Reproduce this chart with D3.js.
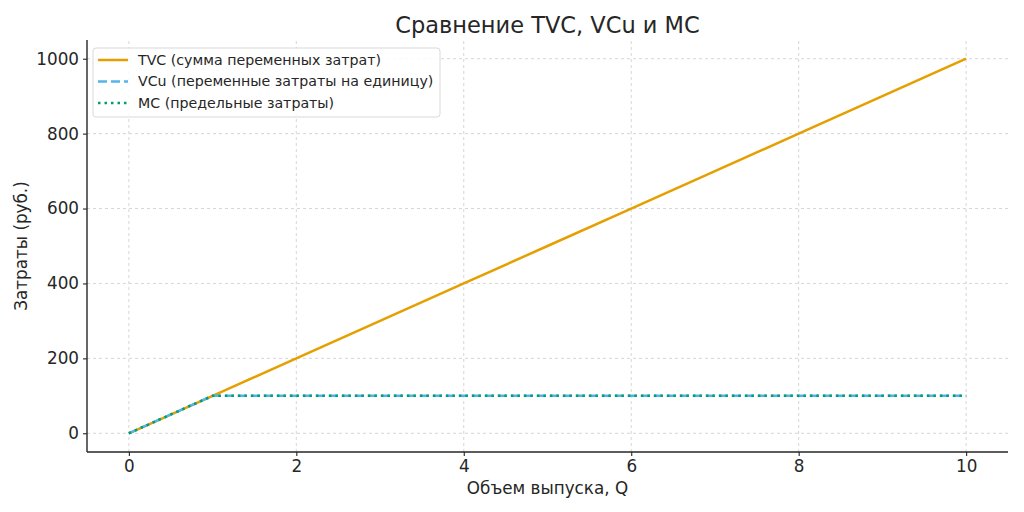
<!DOCTYPE html>
<html>
<head>
<meta charset="utf-8">
<script src="https://cdn.jsdelivr.net/npm/d3@7"></script>
<style>
  body { margin: 0; background: #fff; }
  text { font-family: "DejaVu Sans", sans-serif; fill: #262626; }
</style>
</head>
<body>
<svg id="chart" width="1024" height="512"></svg>
<script>
// chart data
var quantity = [0, 1, 2, 3, 4, 5, 6, 7, 8, 9, 10];
var tvc = [0, 100, 200, 300, 400, 500, 600, 700, 800, 900, 1000];
var vcu = [0, 100, 100, 100, 100, 100, 100, 100, 100, 100, 100];
var mc = [0, 100, 100, 100, 100, 100, 100, 100, 100, 100, 100];
var xTicks = [0, 2, 4, 6, 8, 10];
var yTicks = [0, 200, 400, 600, 800, 1000];
var seriesNames = [
    'TVC (сумма переменных затрат)',
    'VCu (переменные затраты на единицу)',
    'MC (предельные затраты)'
];

var margin = { left: 87, right: 16, top: 40, bottom: 60 };
var width = 1024, height = 512;

var svg = d3.select('#chart');

var x = d3.scaleLinear()
    .domain([-0.5, 10.5])
    .range([margin.left, width - margin.right]);

var y = d3.scaleLinear()
    .domain([-50, 1050])
    .range([height - margin.bottom, margin.top]);

// grid
svg.append('g')
    .selectAll('line')
    .data(xTicks)
    .enter().append('line')
    .attr('x1', (d) => x(d)).attr('x2', (d) => x(d))
    .attr('y1', y.range()[0]).attr('y2', y.range()[1])
    .attr('stroke', '#cccccc')
    .attr('stroke-width', 0.8)
    .attr('stroke-dasharray', '3,3');

svg.append('g')
    .selectAll('line')
    .data(yTicks)
    .enter().append('line')
    .attr('y1', (d) => y(d)).attr('y2', (d) => y(d))
    .attr('x1', x.range()[0]).attr('x2', x.range()[1])
    .attr('stroke', '#cccccc')
    .attr('stroke-width', 0.8)
    .attr('stroke-dasharray', '3,3');

// axes
var xAxis = svg.append('g')
    .attr('transform', `translate(0, ${ y.range()[0] })`)
    .call(d3.axisBottom(x).tickValues(xTicks).tickSize(4).tickPadding(4));

var yAxis = svg.append('g')
    .attr('transform', `translate(${ x.range()[0] }, 0)`)
    .call(d3.axisLeft(y).tickValues(yTicks).tickSize(4).tickPadding(4).tickFormat(d3.format('d')));

[xAxis, yAxis].forEach(function(ax) {
    ax.select('.domain').attr('stroke', '#262626').attr('stroke-width', 1.4);
    ax.selectAll('.tick line').attr('stroke', '#262626').attr('stroke-width', 1.1);
    ax.selectAll('.tick text').style('font-size', '16.8px').attr('fill', '#262626');
});
// plain spines without end caps
xAxis.select('.domain').attr('d', `M${ x.range()[0] },0H${ x.range()[1] }`);
yAxis.select('.domain').attr('d', `M0,${ y.range()[0] }V${ y.range()[1] }`);

// lines
var line = (vals) => d3.line()
    .x((d, i) => x(quantity[i]))
    .y((d) => y(d))(vals);

svg.append('path')
    .attr('d', line(tvc))
    .attr('fill', 'none')
    .attr('stroke', '#E69F00')
    .attr('stroke-width', 2.5);

svg.append('path')
    .attr('d', line(vcu))
    .attr('fill', 'none')
    .attr('stroke', '#56B4E9')
    .attr('stroke-width', 2.5)
    .attr('stroke-dasharray', '9,4');

svg.append('path')
    .attr('d', line(mc))
    .attr('fill', 'none')
    .attr('stroke', '#009E73')
    .attr('stroke-width', 2.5)
    .attr('stroke-dasharray', '2.5,4');

// title and labels
svg.append('text')
    .attr('x', (x.range()[0] + x.range()[1]) / 2)
    .attr('y', 33)
    .attr('text-anchor', 'middle')
    .style('font-size', '22.5px')
    .text('Сравнение TVC, VCu и MC');

svg.append('text')
    .attr('x', (x.range()[0] + x.range()[1]) / 2)
    .attr('y', 494)
    .attr('text-anchor', 'middle')
    .style('font-size', '16.8px')
    .text('Объем выпуска, Q');

svg.append('text')
    .attr('transform', `translate(27, ${ (y.range()[0] + y.range()[1]) / 2 }) rotate(-90)`)
    .attr('text-anchor', 'middle')
    .style('font-size', '16.8px')
    .text('Затраты (руб.)');

// legend
var legend = svg.append('g').attr('transform', 'translate(93, 48)');
legend.append('rect')
    .attr('width', 347).attr('height', 69)
    .attr('rx', 3)
    .attr('fill', '#fff').attr('fill-opacity', 0.85)
    .attr('stroke', '#d9d9d9');

var styles = [
    { color: '#E69F00', dash: null },
    { color: '#56B4E9', dash: '9,4' },
    { color: '#009E73', dash: '2.5,4' }
];

var item = legend.selectAll('g.item')
    .data(seriesNames)
    .enter().append('g')
    .attr('class', 'item')
    .attr('transform', (d, i) => `translate(0, ${ 12 + i * 21.5 })`);

item.append('line')
    .attr('x1', 5).attr('x2', 35)
    .attr('stroke', (d, i) => styles[i].color)
    .attr('stroke-width', 2.5)
    .attr('stroke-dasharray', (d, i) => styles[i].dash);

item.append('text')
    .attr('x', 45)
    .attr('dy', '0.35em')
    .style('font-size', '14.2px')
    .text((d) => d);
</script>
</body>
</html>
